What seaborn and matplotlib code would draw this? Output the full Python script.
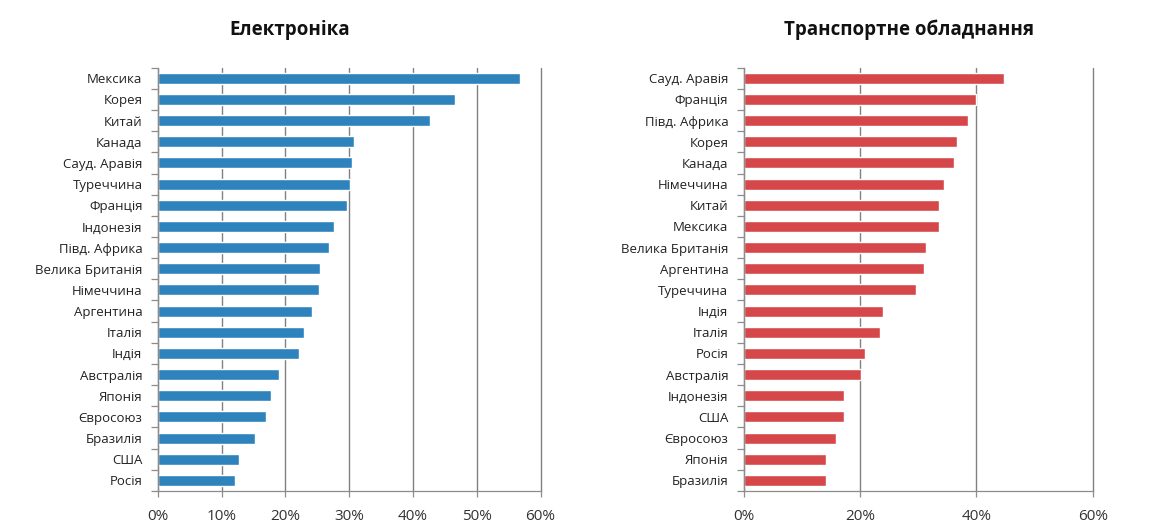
import pandas as pd
import seaborn as sns
import matplotlib.pyplot as plt
from matplotlib.ticker import PercentFormatter

# Electronics panel
electronics_countries = [
    "Мексика", "Корея", "Китай", "Канада", "Сауд. Аравія", "Туреччина",
    "Франція", "Індонезія", "Півд. Африка", "Велика Британія", "Німеччина",
    "Аргентина", "Італія", "Індія", "Австралія", "Японія", "Євросоюз",
    "Бразилія", "США", "Росія",
]
electronics_values = [
    56.7, 46.6, 42.6, 30.7, 30.5, 30.1, 29.7, 27.6, 26.8, 25.4, 25.2,
    24.2, 22.9, 22.2, 19.0, 17.8, 17.0, 15.3, 12.7, 12.1,
]

# Transport equipment panel
transport_countries = [
    "Сауд. Аравія", "Франція", "Півд. Африка", "Корея", "Канада",
    "Німеччина", "Китай", "Мексика", "Велика Британія", "Аргентина",
    "Туреччина", "Індія", "Італія", "Росія", "Австралія", "Індонезія",
    "США", "Євросоюз", "Японія", "Бразилія",
]
transport_values = [
    44.7, 39.9, 38.6, 36.6, 36.1, 34.4, 33.6, 33.5, 31.3, 31.0,
    29.6, 23.9, 23.4, 20.8, 20.2, 17.2, 17.2, 15.8, 14.2, 14.2,
]

left_ticks = [0, 10, 20, 30, 40, 50, 60]
right_ticks = [0, 20, 40, 60]

sns.set_theme(style="white")
plt.rcParams["font.family"] = ["Open Sans", "DejaVu Sans"]

fig = plt.figure(figsize=(11.6, 5.29), dpi=100)
ax1 = fig.add_axes([0.136, 0.072, 0.330, 0.800])
ax2 = fig.add_axes([0.641, 0.072, 0.301, 0.800])


def draw_panel(ax, countries, values, color, ticks):
    df = pd.DataFrame({"country": countries, "value": values})
    sns.barplot(data=df, x="value", y="country", color=color, width=0.52,
                saturation=1, ax=ax)
    ax.set_xlim(0, ticks[-1])
    ax.set_ylim(len(countries) - 0.5, -0.5)
    ax.set_xticks(ticks)
    ax.xaxis.set_major_formatter(PercentFormatter(decimals=0))
    ax.grid(axis="x", color="#808080", linewidth=1.0)
    for line in ax.get_xgridlines():
        line.set_clip_on(False)
    ax.set_axisbelow(True)
    ax.set_xlabel("")
    ax.set_ylabel("")
    for side in ["top", "right"]:
        ax.spines[side].set_visible(False)
    for side in ["left", "bottom"]:
        ax.spines[side].set_color("#8c8c8c")
        ax.spines[side].set_linewidth(0.9)
    # tick marks between categories, labels centred on bars
    ax.set_yticks([i - 0.5 for i in range(len(countries) + 1)], minor=False)
    ax.set_yticklabels([])
    ax.set_yticks(range(len(countries)), minor=True)
    ax.set_yticklabels(countries, minor=True, fontsize=9.5, color="#222222")
    ax.tick_params(axis="y", which="major", left=True, length=5,
                   color="#8c8c8c", width=0.9)
    ax.tick_params(axis="y", which="minor", left=False, pad=7)
    ax.tick_params(axis="x", bottom=True, length=4, color="#8c8c8c",
                   width=0.9, labelsize=11, labelcolor="#333333", pad=9)


draw_panel(ax1, electronics_countries, electronics_values, "#2E83BD", left_ticks)
draw_panel(ax2, transport_countries, transport_values, "#D6474A", right_ticks)

fig.text(0.25, 0.943, "Електроніка", ha="center", va="center",
         fontsize=13.5, fontweight="bold", color="#111111")
fig.text(0.784, 0.943, "Транспортне обладнання", ha="center", va="center",
         fontsize=13.5, fontweight="bold", color="#111111")

fig.savefig("out.png", dpi=100)
